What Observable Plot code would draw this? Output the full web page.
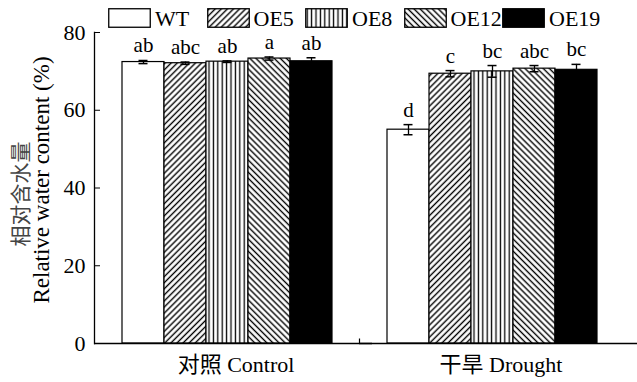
<!DOCTYPE html>
<html><head><meta charset="utf-8">
<script src="https://cdn.jsdelivr.net/npm/d3@7"></script>
<script src="https://cdn.jsdelivr.net/npm/@observablehq/plot@0.6"></script>
<style>
body{margin:0;background:#fff;}
#wrap{position:relative;width:637px;height:382px;font-family:"Liberation Serif","Times New Roman","Noto Sans CJK SC",serif;}
#legend{position:absolute;top:8px;left:108px;display:flex;align-items:center;font-size:22px;line-height:19px;color:#000;}
.item{display:flex;align-items:center;width:98.5px;flex:none}
.item svg{margin-right:4px;display:block;flex:none}
</style></head><body>
<svg width="0" height="0" style="position:absolute">
<defs>
<pattern id="p-oe5" patternUnits="userSpaceOnUse" width="4.3" height="4.3" patternTransform="rotate(45)"><rect width="4.3" height="4.3" fill="white"/><line x1="2.15" y1="-1" x2="2.15" y2="5.3" stroke="black" stroke-width="1.4"/></pattern>
<pattern id="p-oe8" patternUnits="userSpaceOnUse" width="4.4" height="4.4"><rect width="4.4" height="4.4" fill="white"/><line x1="2.2" y1="-1" x2="2.2" y2="5.4" stroke="black" stroke-width="1.3"/></pattern>
<pattern id="p-oe12" patternUnits="userSpaceOnUse" width="4.3" height="4.3" patternTransform="rotate(-45)"><rect width="4.3" height="4.3" fill="white"/><line x1="2.15" y1="-1" x2="2.15" y2="5.3" stroke="black" stroke-width="1.4"/></pattern>
</defs></svg>
<div id="wrap"><div id="legend"></div></div>
<script>
const conditions = ["对照 Control", "干旱 Drought"];
const genotypes = ["WT", "OE5", "OE8", "OE12", "OE19"];
const controlMean = [72.4, 72.1, 72.5, 73.3, 72.6];
const controlErr = [0.4, 0.3, 0.2, 0.4, 0.9];
const controlLetters = ["ab", "abc", "ab", "a", "ab"];
const droughtMean = [55.0, 69.4, 70.0, 70.7, 70.4];
const droughtErr = [1.3, 0.8, 1.5, 0.8, 1.4];
const droughtLetters = ["d", "c", "bc", "abc", "bc"];
const yTicks = [0, 20, 40, 60, 80];
const yTitleCn = "相对含水量";
const yTitleEn = "Relative water content (%)";
const fills = ["white", "url(#p-oe5)", "url(#p-oe8)", "url(#p-oe12)", "black"];

const table = [];
genotypes.forEach((g, i) => {
  table.push({condition: conditions[0], genotype: g, mean: controlMean[i], err: controlErr[i], letter: controlLetters[i]});
});
genotypes.forEach((g, i) => {
  table.push({condition: conditions[1], genotype: g, mean: droughtMean[i], err: droughtErr[i], letter: droughtLetters[i]});
});

const font = '"Liberation Serif","Times New Roman","Noto Sans CJK SC",serif';
const tickSymbol = {draw(ctx, size) { ctx.moveTo(0, 0); ctx.lineTo(0, -5); }};

const plot = Plot.plot({
  width: 637, height: 382,
  marginLeft: 94, marginRight: 13, marginTop: 32, marginBottom: 39,
  style: {fontFamily: font, fontSize: "22px", color: "black", background: "white"},
  fx: {domain: conditions, padding: 0, label: null},
  x: {domain: genotypes, paddingInner: 0, paddingOuter: 0.62, axis: null},
  y: {domain: [0, 80], axis: null},
  color: {domain: genotypes, range: fills},
  marks: [
    Plot.barY(table, {fx: "condition", x: "genotype", y: "mean", fill: "genotype", stroke: "black", strokeWidth: 1.2}),
    Plot.ruleX(table, {fx: "condition", x: "genotype", y1: d => d.mean - d.err, y2: d => d.mean + d.err, stroke: "black", strokeWidth: 1.3}),
    Plot.tickY(table, {fx: "condition", x: "genotype", y: d => d.mean + d.err, insetLeft: 16.5, insetRight: 16.5, stroke: "black", strokeWidth: 1.5}),
    Plot.tickY(table, {fx: "condition", x: "genotype", y: d => d.mean - d.err, insetLeft: 16.5, insetRight: 16.5, stroke: "black", strokeWidth: 1.5}),
    Plot.text(table, {fx: "condition", x: "genotype", y: d => d.mean + d.err, text: "letter", dy: -8, lineAnchor: "bottom", fontSize: 21, fill: "black"}),
    Plot.ruleY([0], {insetRight: -13, stroke: "black", strokeWidth: 1.3}),
    Plot.frame({anchor: "left", facetAnchor: "left", stroke: "black", strokeWidth: 1.3}),
    Plot.dot([conditions[1]], {fx: d => d, frameAnchor: "bottom-left", symbol: tickSymbol, stroke: "black", strokeWidth: 1.2}),
    Plot.axisY({ticks: yTicks, tickSize: -6, tickPadding: 15, label: null, fontSize: 22}),
    Plot.axisFx({anchor: "bottom", tickSize: 0, tickPadding: 13, label: null, dx: 9, fontSize: 22}),
    Plot.text([conditions[0]], {fx: d => d, text: () => yTitleEn, frameAnchor: "left", textAnchor: "middle", lineAnchor: "middle", rotate: -90, dx: -53, dy: -8, fontSize: 23, fill: "black"}),
    Plot.text([conditions[0]], {fx: d => d, text: () => yTitleCn, frameAnchor: "left", textAnchor: "middle", lineAnchor: "middle", rotate: -90, dx: -73, dy: 6, fontSize: 21, fill: "#444"})
  ]
});
const wrap = document.getElementById("wrap");
wrap.insertBefore(plot, wrap.firstChild);

const legend = document.getElementById("legend");
genotypes.forEach((g, i) => {
  const item = document.createElement("div");
  item.className = "item";
  item.innerHTML = `<svg width="43" height="20"><rect x="0.75" y="0.75" width="41.5" height="18.5" fill="${fills[i]}" stroke="black" stroke-width="1.3"/></svg><span>${g}</span>`;
  legend.appendChild(item);
});
</script>
</body></html>
